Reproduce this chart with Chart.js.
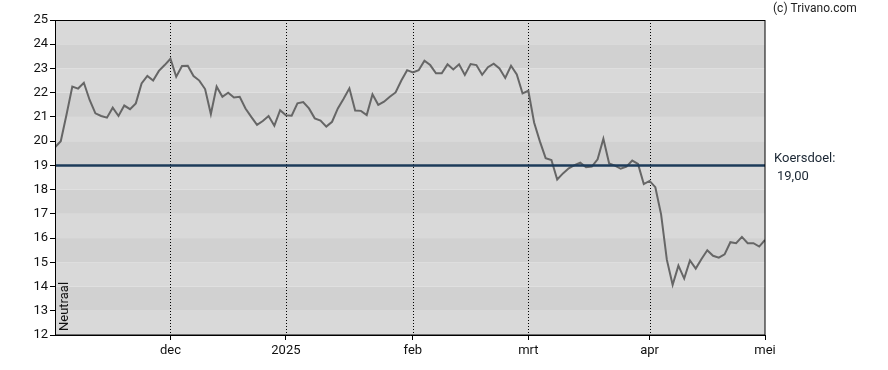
<!DOCTYPE html>
<html>
<head>
<meta charset="utf-8">
<script src="https://cdn.jsdelivr.net/npm/chart.js@4/dist/chart.umd.min.js"></script>
<style>
  html, body { margin: 0; padding: 0; background: #fff; }
  #wrap { width: 888px; height: 370px; position: relative; }
</style>
</head>
<body>
<div id="wrap"><canvas id="c" width="888" height="370"></canvas></div>
<script>
// ---- data ----
const monthLabels = ['dec', '2025', 'feb', 'mrt', 'apr', 'mei'];
const monthTickIndex = [20, 40, 62, 82, 103, 123];   // trading-day index of month start
const prices = [
  19.75, 20.0, 21.1, 22.25, 22.17, 22.41, 21.7, 21.15, 21.04, 20.97,
  21.38, 21.04, 21.47, 21.32, 21.56, 22.38, 22.69, 22.5, 22.9, 23.14,
  23.4, 22.66, 23.1, 23.11, 22.69, 22.5, 22.15, 21.12, 22.25, 21.83,
  22.0, 21.8, 21.83, 21.35, 21.0, 20.67, 20.83, 21.04, 20.64, 21.28,
  21.07, 21.05, 21.56, 21.61, 21.35, 20.94, 20.85, 20.6, 20.8, 21.35,
  21.75, 22.18, 21.26, 21.25, 21.08, 21.93, 21.5, 21.63, 21.83, 22.01,
  22.5, 22.93, 22.84, 22.93, 23.32, 23.14, 22.8, 22.8, 23.17, 22.96,
  23.17, 22.73, 23.18, 23.14, 22.74, 23.05, 23.2, 23.0, 22.61, 23.11,
  22.75, 21.97, 22.08, 20.77, 19.99, 19.3, 19.22, 18.42, 18.67, 18.88,
  19.01, 19.11, 18.92, 18.95, 19.25, 20.1, 19.08, 18.99, 18.86, 18.95,
  19.2, 19.06, 18.23, 18.36, 18.1, 16.98, 15.1, 14.07, 14.86, 14.33,
  15.08, 14.74, 15.14, 15.5, 15.27, 15.19, 15.33, 15.83, 15.79, 16.05,
  15.79, 15.79, 15.65, 15.92
];
const yMin = 12;
const yMax = 25;
const targetPrice = 19;
const targetLabel = ['Koersdoel:', '19,00'];
const adviceLabel = 'Neutraal';
const copyright = '(c) Trivano.com';

const FONT = 'Roboto, "Liberation Sans", Arial, sans-serif';

const decor = {
  id: 'decor',
  beforeDatasetsDraw(chart) {
    const { ctx, chartArea: a, scales: { x, y } } = chart;
    ctx.save();
    // alternating horizontal bands
    for (let v = yMin; v < yMax; v++) {
      const top = y.getPixelForValue(v + 1);
      const bot = y.getPixelForValue(v);
      ctx.fillStyle = (v % 2 === 1) ? '#d1d1d1' : '#d9d9d9';
      ctx.fillRect(a.left, top, a.right - a.left, bot - top);
    }
    // dotted month lines
    ctx.strokeStyle = '#000';
    ctx.lineWidth = 1;
    ctx.setLineDash([1, 2]);
    monthTickIndex.forEach(i => {
      const px = Math.round(x.getPixelForValue(i)) + 0.5;
      if (px < a.right - 1) {
        ctx.beginPath();
        ctx.moveTo(px, a.top);
        ctx.lineTo(px, a.bottom);
        ctx.stroke();
      }
    });
    ctx.restore();
  },
  afterDatasetsDraw(chart) {
    const { ctx, chartArea: a, scales: { y } } = chart;
    ctx.save();
    // target line
    const ty = y.getPixelForValue(targetPrice);
    ctx.strokeStyle = '#1c3b5a';
    ctx.lineWidth = 2.5;
    ctx.beginPath();
    ctx.moveTo(a.left, ty);
    ctx.lineTo(a.right, ty);
    ctx.stroke();
    // frame
    ctx.strokeStyle = '#000';
    ctx.lineWidth = 1;
    ctx.strokeRect(a.left + 0.5, a.top + 0.5, a.right - a.left - 0.5, a.bottom - a.top - 0.5);
    // texts
    ctx.fillStyle = '#1a2633';
    ctx.font = '13px ' + FONT;
    ctx.textBaseline = 'alphabetic';
    ctx.textAlign = 'left';
    ctx.fillText(targetLabel[0], a.right + 9, ty - 3);
    ctx.fillText(targetLabel[1], a.right + 12, ty + 15);
    ctx.fillStyle = '#222';
    ctx.font = '12px ' + FONT;
    ctx.fillText(copyright, a.right + 8, 12);
    // advice (rotated)
    ctx.fillStyle = '#111';
    ctx.font = '13px ' + FONT;
    ctx.translate(a.left + 13, a.bottom - 4);
    ctx.rotate(-Math.PI / 2);
    ctx.fillText(adviceLabel, 0, 0);
    ctx.restore();
  }
};

new Chart(document.getElementById('c'), {
  type: 'line',
  data: {
    datasets: [{
      data: prices.map((p, i) => ({ x: i, y: p })),
      borderColor: '#666666',
      borderWidth: 2,
      pointRadius: 0,
      tension: 0,
      fill: false
    }]
  },
  options: {
    responsive: false,
    animation: false,
    devicePixelRatio: 1,
    layout: { padding: { top: 20, right: 123, left: 0, bottom: 0 } },
    plugins: { legend: { display: false }, tooltip: { enabled: false } },
    scales: {
      x: {
        type: 'linear',
        min: 0,
        max: monthTickIndex[monthTickIndex.length - 1],
        afterBuildTicks(s) { s.ticks = monthTickIndex.map(v => ({ value: v })); },
        afterFit(s) { s.height = 35; },
        grid: { drawOnChartArea: false, drawTicks: true, tickLength: 5, color: '#000' },
        border: { display: true, color: '#000', width: 1 },
        ticks: {
          autoSkip: false, maxRotation: 0, padding: 3,
          color: '#111',
          font: { family: FONT, size: 13 },
          callback: (v) => monthLabels[monthTickIndex.indexOf(v)]
        }
      },
      y: {
        min: yMin,
        max: yMax,
        afterFit(s) { s.width = 55; },
        grid: { drawOnChartArea: false, drawTicks: true, tickLength: 5, color: '#000' },
        border: { display: true, color: '#000', width: 1 },
        ticks: {
          stepSize: 1, padding: 2,
          color: '#111',
          font: { family: FONT, size: 13 }
        }
      }
    }
  },
  plugins: [decor]
});
</script>
</body>
</html>
